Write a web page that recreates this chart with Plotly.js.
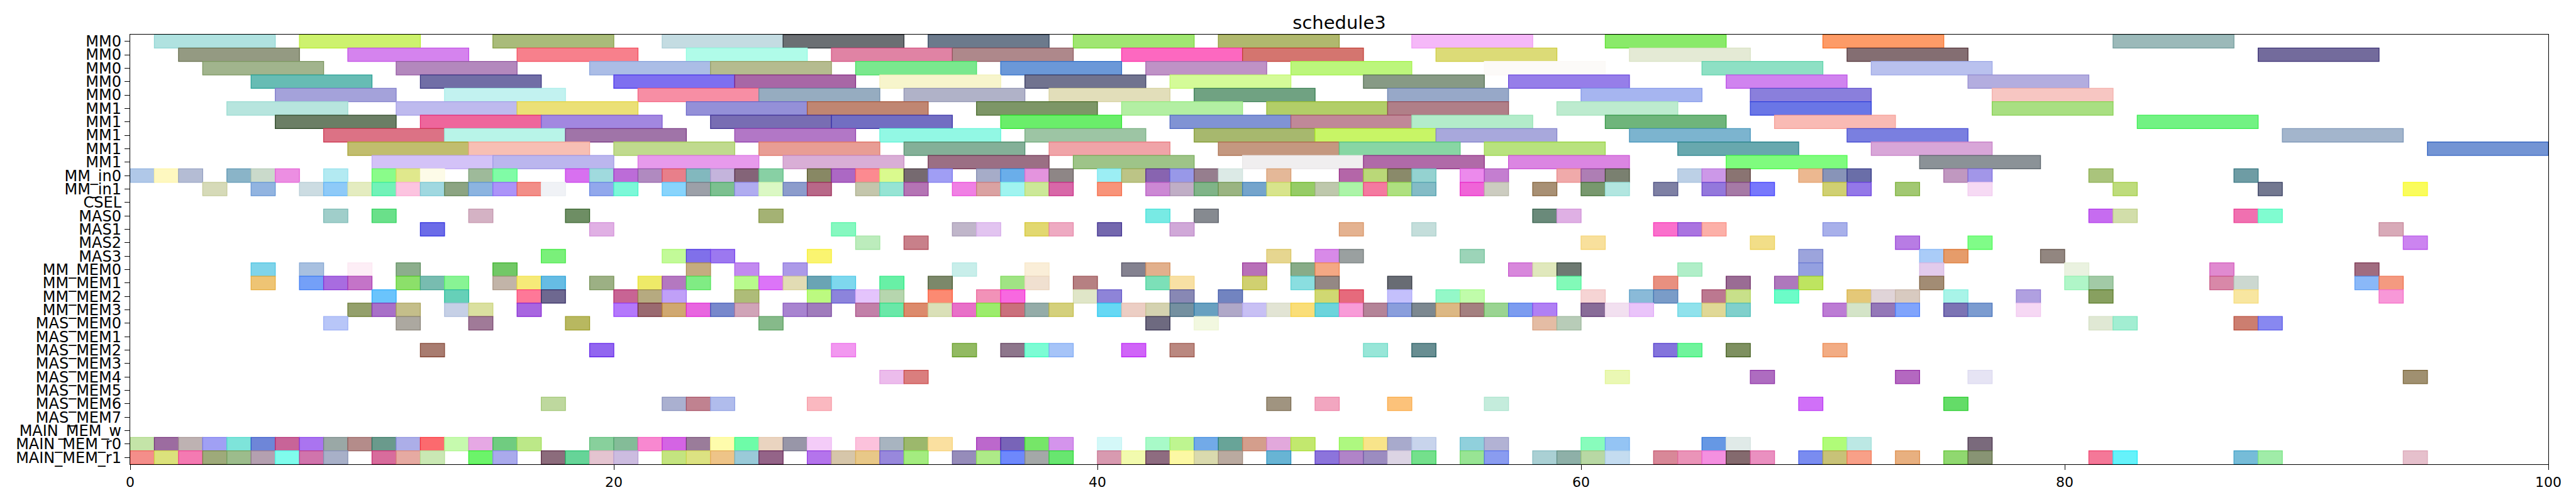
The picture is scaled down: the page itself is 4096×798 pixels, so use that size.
<!DOCTYPE html>
<html>
<head>
<meta charset="utf-8">
<script src="https://cdn.plot.ly/plotly-3.0.1.min.js"></script>
<style>html,body{margin:0;padding:0;background:#fff;}#chart{width:4096px;height:798px;}</style>
</head>
<body>
<div id="chart"></div>
<script>
// ---------------- data ----------------
const rowLabels = ["MM0","MM0","MM0","MM0","MM0","MM1","MM1","MM1","MM1","MM1",
  "MM_in0","MM_in1","CSEL","MAS0","MAS1","MAS2","MAS3",
  "MM_MEM0","MM_MEM1","MM_MEM2","MM_MEM3",
  "MAS_MEM0","MAS_MEM1","MAS_MEM2","MAS_MEM3","MAS_MEM4","MAS_MEM5","MAS_MEM6","MAS_MEM7",
  "MAIN_MEM_w","MAIN_MEM_r0","MAIN_MEM_r1"];
const xTicks = [0,20,40,60,80,100];
const LONG_TASK = 5;   // MM task duration
const SHORT_TASK = 1;  // transfer duration

const MM0_1_start = [1,7,15,22,27,33,39,45,53,61,70,82];
const MM0_1_color = ['#b0e2e0','#cdf26e','#a9bb7a','#c4dce2','#6b6f73','#6c7a8c','#a0e672','#b0b86e','#f5b8f8','#8aea6a','#fd9b67','#9bb9b9'];
const MM0_2_start = [2,9,16,23,29,34,41,46,54,62,71,88];
const MM0_2_color = ['#949a82','#d583ee','#f7808c','#b0fce9','#e083a4','#ae888b','#fd68c0','#d4756f','#dcdb77','#e4ead5','#846e72','#736b9c'];
const MM0_3_start = [3,11,19,24,30,36,42,48,56,65,72];
const MM0_3_color = ['#a1b48d','#b388bd','#abbde6','#b5bb8f','#7ae88e','#6b98d8','#bf92c6','#bcf67c','#fcfaf8','#8ee0c4','#b9c1ee'];
const MM0_4_start = [5,12,20,25,31,37,43,51,57,66,76];
const MM0_4_color = ['#67bcb4','#716ea6','#7e6ff0','#a867a6','#f7f5cc','#71738f','#d4fb98','#879a85','#967ee9','#d083ef','#b3addf'];
const MM0_5_start = [6,13,21,26,32,38,44,52,60,67,77];
const MM0_5_color = ['#a4a2da','#c2f2f0','#f78ea4','#96acc0','#b0b2c8','#e2deba','#70a282','#97a8c8','#a6b5f0','#8a7fdc','#f7c6c2'];

const MM1_1_start = [4,11,16,23,28,35,41,47,52,59,67,77];
const MM1_1_color = ['#b7e5de','#bebaee','#ebe076','#9490d8','#c08672','#7d9667','#b3efa3','#b2ce68','#b07f88','#bdebcf','#6a76e6','#a9df82'];
const MM1_2_start = [6,12,17,24,29,36,43,48,53,61,68,83];
const MM1_2_color = ['#6b7e65','#ee669c','#a287e0','#786db3','#726ec2','#6aee6a','#8093d4','#c08898','#b3ecca','#6fb57b','#f9bab4','#72f283'];
const MM1_3_start = [8,13,18,25,31,37,44,49,54,62,71,89];
const MM1_3_color = ['#dc7285','#b8f4e8','#a074a8','#b277c6','#92f8e4','#9dc5a4','#a7b86e','#c8f566','#a8a8dc','#7cb4cf','#7a7fe0','#a3b5cc'];
const MM1_4_start = [9,14,20,26,32,38,45,50,56,64,72,95];
const MM1_4_color = ['#c1bd6e','#f7bfb4','#c0da8e','#e89d94','#84b098','#f0a4a8','#c49880','#88d6a4','#b8e27e','#68a8ae','#d8a6d8','#7394d4'];
const MM1_5_start = [10,15,21,27,33,39,46,51,57,66,74];
const MM1_5_color = ['#d3c2f7','#bbb6ee','#e79aec','#d9aed6','#9b6f84','#9ec488','#f0eeef','#b06aa8','#db85e2','#7ffc7e','#8b9297'];

const MM_in0_start = [0,1,2,4,5,6,8,10,11,12,14,15,18,19,20,21,22,23,24,25,26,28,29,30,31,32,33,35,36,37,38,40,41,42,43,44,45,47,50,51,52,53,55,56,59,60,61,64,65,66,69,70,71,75,76,81,87];
const MM_in0_color = ['#b0c8e8','#fef8c0','#b4bcd4','#8ab4c8','#cadacb','#ec8ee2','#b3eaf2','#8afc8a','#e0e88c','#fdfbe8','#9eba9a','#80fca6','#d870f0','#a0dade','#bc6cd8','#b08ac0','#e87f8a','#82b8be','#c4b4dc','#846478','#88d0a4','#888864','#ac68c4','#fc8a90','#dafa8e','#766a70','#a09ef4','#a6acc8','#6aaeea','#e494de','#8e8686','#9ceef4','#bcc486','#8864b0','#9898e8','#967e8e','#dceae6','#e4b898','#b466a8','#bad878','#8a8a6a','#94d2d0','#ec8aec','#c47ed0','#f0aaaa','#ae7eb4','#7a8070','#bcd0e6','#cc98e8','#8a7472','#ecb890','#8894b8','#6a6ea8','#c098c0','#a296e8','#aac47c','#6e9ca4'];

const MM_in1_start = [3,5,7,8,9,10,11,12,13,14,15,16,17,19,20,22,23,24,25,26,27,28,30,31,32,34,35,36,37,38,40,42,43,44,45,46,47,48,49,50,51,52,53,55,56,58,60,61,63,65,66,67,70,71,73,76,82,88,94];
const MM_in1_color = ['#d6dab8','#92b4e0','#ccdce2','#8ecaf8','#e4ecc0','#72f2b8','#fcc4e0','#a0d8e0','#8ca482','#8cb4e0','#ac94f8','#f28e88','#f0f2f6','#92a8ec','#7cf8d8','#88d4fc','#9ca0a8','#7cc090','#b0acf0','#dbf8c4','#8c9ccc','#b86888','#c4c6ac','#96e4d4','#b474b4','#f080e4','#daa2a2','#a0f4f0','#cce898','#d868a8','#f8947a','#cc88d4','#c0aec6','#80b488','#9ab482','#74a4cc','#d8e48c','#96cc66','#bec8ac','#acf4a8','#f47aa0','#aee080','#84bcc6','#f064d8','#ccccc0','#a89074','#78986e','#b2e6e0','#7e80a4','#9478dc','#a67aa6','#7878fc','#d0d072','#9478e8','#a2c872','#f6daf4','#bedc7c','#737890','#fafc5c'];

const CSEL_start = [];
const CSEL_color = [];

const MAS0_start = [8,10,14,18,26,42,44,58,59,81,82,87,88];
const MAS0_color = ['#a0ceca','#6ae08a','#d4b2c4','#6e8e64','#a4b274','#78eae4','#868a90','#6a8a7a','#dfb0e4','#c66cf0','#d2deaa','#f070b0','#80fcd0'];
const MAS1_start = [12,19,29,34,35,37,38,40,43,50,53,63,64,65,70,93];
const MAS1_color = ['#6c6ce8','#e0b0e4','#86f8c0','#c0b6ca','#e2c4f0','#e2d870','#eeaac2','#7468ae','#d0a8d8','#e4b290','#c4dedb','#fa70cc','#aa74e0','#fcb0a8','#a8b0ea','#d8aab8'];
const MAS2_start = [30,32,60,67,73,76,94];
const MAS2_color = ['#bcecbc','#c8808a','#f8e09c','#f2de88','#b87ce4','#80fc88','#cc84f0'];
const MAS3_start = [17,22,23,24,28,47,49,50,55,69,74,75,79];
const MAS3_color = ['#7af07a','#c2fa98','#8070ea','#9c78f0','#faf470','#e6d690','#d88ae8','#9aa0a0','#9cd4b8','#9ca4dc','#aaccf8','#e69c6a','#928680'];

const MM_MEM0_start = [5,7,9,11,15,23,25,27,34,37,41,42,46,48,49,57,58,59,64,69,74,80,86,92];
const MM_MEM0_color = ['#7fd4ea','#a8c0e0','#fdeef6','#8cae8c','#72c866','#c4ac80','#c28af0','#ac9ae8','#c8eeea','#faeed8','#848290','#e2b08c','#b870b8','#88ac88','#f4a884','#d888dc','#e0e8bc','#6e7a72','#b0eec8','#94a0e0','#e2cbec','#eaf2e0','#e08ad0','#a06c80'];
const MM_MEM1_start = [5,7,8,9,11,12,13,15,16,17,19,21,22,23,25,26,27,28,29,31,33,36,37,39,42,43,46,48,49,52,59,63,66,68,69,74,80,81,86,87,92,93];
const MM_MEM1_color = ['#eec474','#74a0f8','#a86ce0','#c474c8','#8ce06a','#78bcb0','#88f494','#c2b4a8','#f6ea78','#66bce4','#9cb084','#eeea68','#b478c0','#80ec84','#b8fa8c','#dc74f8','#e2dcb4','#6aa4b4','#7ed8ee','#68f0a6','#7c886a','#a0e484','#f0e0d0','#b68082','#7ce0b8','#f8e0a4','#d0d070','#8adee0','#948884','#686c74','#82fab8','#e89080','#9a6c94','#ae78bc','#bee460','#a28c74','#b0f6c8','#a2caa6','#d888a8','#ccd8d0','#8ab8f8','#f49a80'];
const MM_MEM2_start = [10,13,16,17,20,21,22,25,28,29,30,31,33,35,36,39,40,43,45,49,50,52,54,55,60,62,63,65,66,68,71,72,73,75,78,81,87,93];
const MM_MEM2_color = ['#6ac4fc','#66d0b8','#fe7898','#6e6890','#c86494','#b6aa80','#c0a0f8','#aebc78','#bcfa80','#8c84dc','#e4c4fc','#b6d6ae','#fc8a72','#f292b8','#f868e0','#e0e6c8','#8e84d8','#8888b4','#7284c0','#d0d872','#e66a7c','#c4c0fc','#94f8c8','#c0fcaa','#f6d4d4','#8abad8','#7a9cc8','#bc7890','#c8e08a','#6cfcc8','#e4c878','#e0d4d8','#d8cac0','#a8f4e8','#b0a0e0','#88a060','#f8e6a0','#f898d8'];
const MM_MEM3_start = [9,10,11,13,14,16,20,21,22,23,24,25,27,28,30,31,32,33,34,35,36,37,38,40,41,42,43,44,45,46,47,48,49,50,51,52,53,54,55,56,57,58,60,61,62,64,65,66,70,71,72,73,75,76,78];
const MM_MEM3_color = ['#94a06c','#a870c8','#c4be8a','#c6d0e6','#dae0a0','#a866e0','#b478fc','#9a6a70','#d0a870','#e866e0','#7888cc','#d0a4b8','#a884d0','#a07cbc','#c280a8','#6ae8a8','#dc8a6c','#dae0b8','#e870c8','#9cec6c','#ca707c','#94aca8','#d4d07c','#66d8f4','#eccec4','#d4d2b0','#7490a0','#68a0c0','#b0a8c8','#c8c0f4','#e2e4d4','#fade78','#6cd4dc','#f89cd8','#b48498','#8a9edc','#7c8890','#dcb884','#a48080','#9ad492','#7c9cf0','#b080f4','#886c98','#f2e0f0','#eac4fa','#90e2ec','#e0d896','#80d0cc','#bc7cd4','#d4e4c8','#9478b8','#80a4fc','#7c74b4','#7c9cd0','#f6d8f4'];

const MAS_MEM0_start = [8,11,14,18,26,42,44,58,59,81,82,87,88];
const MAS_MEM0_color = ['#b8c6f8','#aca8a0','#a07a98','#b8b860','#86ba8a','#6e6a80','#f2f8e0','#e4bca4','#b8ccb8','#e0e8d4','#a2eed2','#cc7e70','#8888f0'];
const MAS_MEM1_start = [];
const MAS_MEM1_color = [];
const MAS_MEM2_start = [12,19,29,34,36,37,38,41,43,51,53,63,64,66,70];
const MAS_MEM2_color = ['#a87c70','#9266f0','#f298f0','#92ba62','#8e768c','#7cfcd4','#a6c4f8','#d064f8','#ba8880','#98e6d8','#688e92','#8474dc','#70f49c','#7e9060','#f2ac84'];
const MAS_MEM3_start = [];
const MAS_MEM3_color = [];
const MAS_MEM4_start = [31,32,61,67,73,76,94];
const MAS_MEM4_color = ['#ecbcec','#da7e7e','#eaf8b4','#ae6cc0','#b468c0','#e6e4f4','#a09070'];
const MAS_MEM5_start = [];
const MAS_MEM5_color = [];
const MAS_MEM6_start = [17,22,23,24,28,47,49,52,56,69,75];
const MAS_MEM6_color = ['#bed89e','#aab0d0','#c08290','#b0bcec','#fab8c0','#a09480','#f2a6c0','#fcc27a','#c4ecdc','#d070f8','#64dc68'];
const MAS_MEM7_start = [];
const MAS_MEM7_color = [];

const MAIN_MEM_w_start = [];
const MAIN_MEM_w_color = [];
const MAIN_MEM_r0_start = [0,1,2,3,4,5,6,7,8,9,10,11,12,13,14,15,16,19,20,21,22,23,24,25,26,27,28,30,31,32,33,35,36,37,38,40,42,43,44,45,46,47,48,50,51,52,53,55,56,60,61,65,66,70,71,76];
const MAIN_MEM_r0_color = ['#c4e4a8','#9c6ca0','#beb2b2','#a0a0f4','#7ee4da','#6e86d8','#c86498','#aa74f0','#9aa8a6','#b48c8a','#6a9a8c','#acaee8','#fc6a6e','#c6faae','#e6a8e4','#70cc80','#bce888','#88d09c','#84bc98','#f888d0','#d464e4','#9a7c9a','#fefcac','#6efca8','#ead4c0','#9896a8','#f4ccf8','#fcc2dc','#a8b4c0','#9cb86c','#fae0a0','#bc68cc','#7864b8','#76e668','#d494ec','#d4f8f8','#a8fac8','#bef590','#72aae8','#68a498','#d49e8c','#e2a8dc','#c2e86e','#aef880','#f8e48a','#a8aacc','#c8d4ec','#90d0dc','#b2b2d4','#88fcbc','#94c4f4','#6698e4','#e0eae8','#b0fc78','#bce8e4','#7a6a7c'];
const MAIN_MEM_r1_start = [0,1,2,3,4,5,6,7,8,10,11,12,14,15,17,18,19,20,22,23,24,25,26,28,29,30,31,32,34,35,36,37,38,40,41,42,43,44,45,47,49,50,51,52,53,55,56,58,59,60,61,63,64,65,66,67,69,70,71,73,75,76,81,82,87,88,94];
const MAIN_MEM_r1_color = ['#f48e8a','#dce27c','#f47ab2','#9eaa7a','#9cbc8c','#b4a0b0','#80fcec','#d074ac','#a8b0c8','#d86c9c','#e6aaa2','#cae8b4','#6cf46a','#aaaaec','#8c6c7c','#66d498','#e4c4d0','#ccbce0','#c4e480','#dce282','#eec488','#9acad8','#946488','#b474ec','#d6c6aa','#e8c888','#9888dc','#a4ec80','#968cba','#aeea88','#6e88fc','#a4a8a8','#68e670','#d89ab0','#f2faae','#8e6c80','#fcf8a4','#dadaae','#baaaa0','#68b4d4','#8c74dc','#b084c8','#9c8cc0','#dcd4e4','#74e08c','#98e494','#8a9cf0','#aad0d4','#8eb0a8','#b8d8a4','#c4dcf0','#d88898','#ea94b8','#f490e0','#846a6e','#ea90c0','#7a8cf0','#c8c278','#f8a088','#e8b080','#90d870','#889474','#f47898','#66f2fa','#76bcd8','#a0eca8','#e6c0cc'];

// ---------------- build ----------------
const rows = [
  [MM0_1_start, MM0_1_color, LONG_TASK], [MM0_2_start, MM0_2_color, LONG_TASK],
  [MM0_3_start, MM0_3_color, LONG_TASK], [MM0_4_start, MM0_4_color, LONG_TASK],
  [MM0_5_start, MM0_5_color, LONG_TASK],
  [MM1_1_start, MM1_1_color, LONG_TASK], [MM1_2_start, MM1_2_color, LONG_TASK],
  [MM1_3_start, MM1_3_color, LONG_TASK], [MM1_4_start, MM1_4_color, LONG_TASK],
  [MM1_5_start, MM1_5_color, LONG_TASK],
  [MM_in0_start, MM_in0_color, SHORT_TASK], [MM_in1_start, MM_in1_color, SHORT_TASK],
  [CSEL_start, CSEL_color, SHORT_TASK],
  [MAS0_start, MAS0_color, SHORT_TASK], [MAS1_start, MAS1_color, SHORT_TASK],
  [MAS2_start, MAS2_color, SHORT_TASK], [MAS3_start, MAS3_color, SHORT_TASK],
  [MM_MEM0_start, MM_MEM0_color, SHORT_TASK], [MM_MEM1_start, MM_MEM1_color, SHORT_TASK],
  [MM_MEM2_start, MM_MEM2_color, SHORT_TASK], [MM_MEM3_start, MM_MEM3_color, SHORT_TASK],
  [MAS_MEM0_start, MAS_MEM0_color, SHORT_TASK], [MAS_MEM1_start, MAS_MEM1_color, SHORT_TASK],
  [MAS_MEM2_start, MAS_MEM2_color, SHORT_TASK], [MAS_MEM3_start, MAS_MEM3_color, SHORT_TASK],
  [MAS_MEM4_start, MAS_MEM4_color, SHORT_TASK], [MAS_MEM5_start, MAS_MEM5_color, SHORT_TASK],
  [MAS_MEM6_start, MAS_MEM6_color, SHORT_TASK], [MAS_MEM7_start, MAS_MEM7_color, SHORT_TASK],
  [MAIN_MEM_w_start, MAIN_MEM_w_color, SHORT_TASK],
  [MAIN_MEM_r0_start, MAIN_MEM_r0_color, SHORT_TASK],
  [MAIN_MEM_r1_start, MAIN_MEM_r1_color, SHORT_TASK]
];

function edgeOf(hex) {
  const out = [1,3,5].map(i => {
    const v = parseInt(hex.slice(i, i + 2), 16);
    const c = Math.max(0, Math.min(255, (v - 102) / 0.6));
    return Math.round(0.6 * c + 0.4 * v);
  });
  return 'rgb(' + out.join(',') + ')';
}

const traces = rows.map((r, i) => ({
  type: 'bar',
  orientation: 'h',
  y: r[0].map(() => i),
  x: r[0].map(() => r[2]),
  base: r[0],
  width: r[0].map(() => 1),
  marker: { color: r[1], line: { color: r[1].map(edgeOf), width: 1.3 } },
  hoverinfo: 'skip',
  showlegend: false
}));

const font = 'DejaVu Sans, Liberation Sans, sans-serif';
const layout = {
  width: 4096, height: 798,
  margin: { l: 207, r: 44, t: 55, b: 60, pad: 0 },
  paper_bgcolor: '#fff', plot_bgcolor: '#fff',
  barmode: 'overlay',
  bargap: 0,
  title: { text: 'schedule3', font: { family: font, size: 29, color: '#000' },
           x: 0.5, xref: 'paper', xanchor: 'center', y: 0.955, yref: 'container', yanchor: 'middle' },
  xaxis: {
    range: [0, 100], tickvals: xTicks, ticktext: xTicks.map(String),
    ticks: 'outside', ticklen: 8, tickwidth: 1, tickcolor: '#000',
    showline: true, mirror: true, linecolor: '#000', linewidth: 1.2,
    showgrid: false, zeroline: false,
    tickfont: { family: font, size: 22, color: '#000' }
  },
  yaxis: {
    range: [31.5, -0.5], tickvals: rowLabels.map((_, i) => i), ticktext: rowLabels,
    ticks: 'outside', ticklen: 8, tickwidth: 1, tickcolor: '#000',
    showline: true, mirror: true, linecolor: '#000', linewidth: 1.2,
    showgrid: false, zeroline: false,
    tickfont: { family: font, size: 24, color: '#000' }
  }
};

Plotly.newPlot('chart', traces, layout, { staticPlot: true, displayModeBar: false });
</script>
</body>
</html>
